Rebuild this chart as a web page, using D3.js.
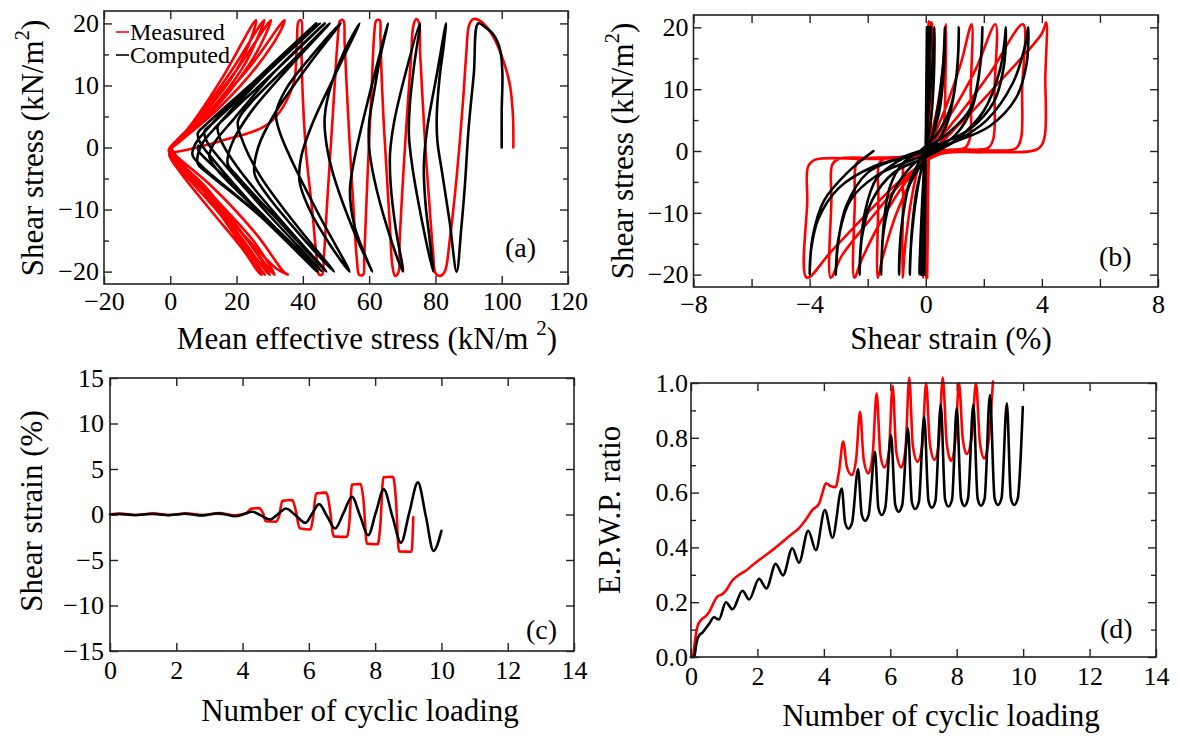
<!DOCTYPE html>
<html><head><meta charset="utf-8">
<script src="https://cdn.jsdelivr.net/npm/d3@7"></script>
<style>
body{margin:0;background:#fff;}
</style></head><body>
<script>
const W = 1180, H = 740;
const RED = "#ff0000", BLACK = "#000000";
const SERIF = "'Liberation Serif', 'Times New Roman', Times, serif";

// (a) effective stress paths: [mean effective stress, shear stress]
const stressPathMeasured = [
 [103.5,0],[103.4,5],[102.5,10],[100.5,14],[97.5,17.8],[94,20.2],[91.5,20.7],[90.2,19.8],[89.3,15],[88.4,8],[87.2,0],[85.8,-8],[84.3,-15],[82.8,-20],[81.3,-20.7],[80,-20.2],[79.3,-17],[78.3,-10],[77.2,-2],[76.1,8],[75.4,15],[75,20.2],[74.2,20.7],[73.3,19.5],[72.7,15],[71.8,8],[70.8,0],[69.9,-8],[69.2,-15],[68.8,-20.2],[67.8,-20.7],[67,-19],[66.3,-13],[65.4,-5],[64.5,3],[63.8,11],[63.4,18],[63.2,20.5],[62.2,20.5],[61.5,18],[60.8,10],[59.9,0],[59.1,-10],[58.5,-18],[58.2,-20.5],[57,-20.5],[56.3,-18],[55.3,-10],[54.3,-1],[53.3,9],[52.6,17],[52.2,20.5],[51.2,20.4],[50.6,18],[49.6,10],[48.4,0],[47.2,-10],[46.3,-18],[45.8,-20.5],[44.8,-20.4],[44.2,-18],[42.8,-10],[41,-1],[40,8],[39.6,15],[39.5,20.5],[38.7,20.3],[38.2,17],[37,10],[30,4],[15,1],[4,-0.5],[0.5,-1],[2,-2.5],[10,-7],[22,-14],[32,-19.5],[35.5,-20.5],[34.5,-20.2],[26,-14],[12,-6],[2,-1.5],[0,-0.5],[3,1],[14,6],[26,13],[33,18.5],[34.5,20.5],[33.5,20],[24,13],[11,5.5],[1,0.5],[0,-1],[3,-2.5],[14,-8.5],[25,-15],[30,-19],[31.5,-20.5],[30.5,-20],[22,-14],[10,-6],[1,-1.5],[-0.3,-0.5],[2,1],[12,5.5],[24,13.5],[29,18.5],[30.4,20.5],[29.5,20],[20,12.5],[8,4.5],[0.5,0],[-0.3,-1.2],[3,-3],[14,-9],[24,-15.5],[29,-19.5],[30,-20.5],[29,-20],[20,-13.5],[9,-6],[1,-1.5],[-0.5,-0.5],[2,1],[12,6],[22,13],[27,18.5],[28.4,20.5],[27.5,20],[18,12],[7,4],[0.5,0],[-0.3,-1.2],[3,-3.5],[13,-9.5],[23,-16],[27.5,-19.8],[28.5,-20.5],[27.5,-20],[19,-13.5],[8,-5.5],[1,-1.5],[-0.5,-0.5],[2,1.2],[11,6],[20,12.5],[25,18.5],[25.9,20.5],[25,20],[16,11.5],[6,3.5],[0.5,0],[-0.3,-1.2],[3,-4],[12,-10],[22,-16.5],[26.5,-20],[27.5,-20.5],[26.5,-19.5],[18,-13],[8,-5.5],[2,-1.5],[0.5,-0.3]
];
const stressPathComputed = [
 [100,0],[100,6],[100.2,12],[99.5,15.8],[97.5,18.2],[95,19.4],[92.9,20],
 [91.6,12],[90,3],[88.9,-6],[87.8,-13],[86.4,-20],
 [84.3,-12],[82,-4],[80.6,1],[80.4,5],[81.2,11],[82.4,16],[83.2,20],
 [80.5,12],[77.5,3],[76.5,-3],[77,-9],[78.3,-15],[79.3,-20],
 [76,-12],[73,-3],[72,2],[72.3,7],[73.5,13],[75.3,20],
 [71,12],[67.5,4],[66.3,-1],[66.5,-6],[68,-13],[70.2,-20],
 [65.5,-13],[61.5,-5],[60,0],[60,4],[61.5,9],[63.5,15],[65.7,20],
 [59.7,7.7],[55.5,-2],[54.2,-7],[55.5,-12.5],[58.5,-17],[60.9,-20],
 [55,-13],[49,-4],[47,1],[46.6,5],[48.5,10],[52.5,15.5],[57.1,20],
 [50,12],[43,4],[39.5,-1.5],[39,-5.5],[42,-10],[48,-15.5],[54.1,-20],
 [45,-11],[37,-2.5],[33,2.5],[31.9,5.5],[35,9.5],[43,15],[51.4,20],
 [42,13.5],[31,5],[26.5,0],[25.4,-4.2],[29,-7.5],[39,-14],[49.4,-20],
 [38,-12.5],[27,-4.5],[21.5,1.5],[20.4,4.2],[24,7],[36,13.5],[48.1,20],
 [36,13],[24,5.5],[18.5,0.5],[17.3,-2.6],[20,-4.5],[33,-12],[47.1,-20],
 [33,-11.5],[20,-3],[15,1.5],[14.3,3.4],[17,5],[31,12],[46.6,20],
 [32,12.5],[19,4.5],[13,0.5],[11.8,-1.5],[14,-3.5],[29,-11.5],[45.7,-20],
 [30,-11],[16,-2.5],[11,1],[10.3,2.6],[13,4],[28,11.5],[45.1,20],
 [29,12],[15,4],[9.5,0.5],[8.3,-2.6],[11,-4],[27,-11],[44.5,-20],
 [27,-10.5],[13,-2],[9,0.8],[8.3,2.3],[11,3.8],[26,11],[44.0,20],
 [27,11.5],[12,3.5],[7.5,0.5],[6.7,-1.2],[9.5,-3],[26,-10.5],[44.3,-20],
 [30,-12],[14,-3.5],[8.5,-0.5],[8.5,0.3]
];

// (b) stress-strain loops: [shear strain %, shear stress]
const hysteresisMeasured = [
 [0,0],[0.05,10],[0.1,21],[0.12,15],[0.05,0],[0.02,-10],[0.05,-20.5],[0.06,-10],[0.1,0],[0.15,12],[0.15,20.8],[0.14,10],[0.1,0],[0.05,-12],[0.05,-20.5],[0.08,-8],[0.12,5],[0.18,20.8],[0.16,8],[0.1,-2],[0.02,-20.5],[0.05,-8],[0.12,4],[0.22,20.8],[0.18,6],[0.05,-3],[-0.1,-20.5],
 [-0.08,-8],[-0.02,-1],[0.15,2],[0.4,7],[0.6,14],[0.7,20.5],
 [0.68,12],[0.6,3],[0.45,0.8],[0.1,0],[-0.2,-2],[-0.5,-8],[-0.7,-15],[-0.8,-20.5],
 [-0.78,-8],[-0.74,-2],[-0.55,-1.2],[-0.2,-0.8],[0.1,1],[0.6,6],[1.2,14],[1.58,20.5],
 [1.55,10],[1.52,2],[1.35,0.5],[0.8,0.2],[0.2,-0.3],[-0.4,-4],[-1.0,-10],[-1.5,-17.5],[-1.65,-20.5],
 [-1.63,-8],[-1.6,-2],[-1.4,-1.2],[-0.6,-1.0],[0,0],[0.8,5.5],[1.7,13],[2.4,20.5],
 [2.37,10],[2.33,2],[2.15,0.5],[1.2,0.2],[0.3,-0.3],[-0.6,-4.5],[-1.5,-11],[-2.2,-17.5],[-2.46,-20.5],
 [-2.44,-8],[-2.4,-2.2],[-2.2,-1.3],[-1.0,-1.0],[0,0],[1.0,5],[2.2,12.5],[3.35,20.5],
 [3.32,10],[3.28,2],[3.1,0.4],[1.8,0.1],[0.4,-0.5],[-0.7,-4.5],[-1.9,-11],[-2.9,-17],[-3.27,-20.5],
 [-3.25,-8],[-3.22,-2.2],[-3.0,-1.3],[-1.5,-1.1],[0,-0.3],[1.2,4.5],[2.6,11.5],[4.0,19],[4.15,20.8],
 [4.12,12],[4.08,2],[3.85,0.3],[2.0,-0.2],[0.5,-0.5],[-0.8,-4.5],[-2.0,-10],[-3.3,-16.5],[-4.1,-20.5],
 [-4.08,-8],[-4.05,-2.5],[-3.8,-1.4],[-2.0,-1.3],[-0.3,-1.0]
];
const hysteresisComputed = [
 [0,0],[0.02,10],[0.04,20],[0.0,0],[-0.05,-20],[0.0,0],[0.08,20],[0.0,0],[-0.1,-20],[0.0,0],[0.12,20],[0.0,0],[-0.15,-20],[0.0,0],[0.18,20],[0.01,0],[-0.22,-20],
 [-0.14,-10],[-0.06,-3],[0.02,2],[0.12,8],[0.25,15],[0.3,20],
 [0.28,12],[0.18,5],[0.0,0],[-0.2,-4],[-0.4,-10],[-0.52,-16],[-0.55,-20],
 [-0.48,-13],[-0.3,-6],[-0.05,-1.5],[0.2,2],[0.45,8],[0.6,14],[0.66,20],
 [0.62,13],[0.45,6],[0.15,1.5],[-0.2,-1.5],[-0.55,-5],[-0.8,-11],[-0.9,-16],[-0.92,-20],
 [-0.85,-13],[-0.6,-6],[-0.2,-2.5],[0.25,0.5],[0.7,4],[1.0,10],[1.12,16],[1.14,20],
 [1.08,13],[0.85,7],[0.35,2.5],[-0.2,0],[-0.8,-2],[-1.25,-6],[-1.45,-12],[-1.54,-20],
 [-1.45,-13],[-1.15,-7],[-0.5,-2.5],[0.2,0],[1.0,2.5],[1.6,7],[1.88,14],[1.95,20],
 [1.88,14],[1.55,7],[0.8,3],[0,0.5],[-0.9,-1.5],[-1.7,-4.5],[-2.1,-10],[-2.25,-16],[-2.28,-20],
 [-2.2,-14],[-1.85,-8],[-1.1,-3.5],[0,-1],[1.1,2],[2.0,6.5],[2.55,13],[2.72,18],[2.76,20],
 [2.7,14],[2.35,8],[1.5,3.5],[0.4,1],[-0.8,-1],[-2.0,-3.5],[-2.75,-9],[-3.02,-15],[-3.1,-20],
 [-3.0,-14],[-2.6,-8],[-1.7,-4],[-0.5,-1.5],[0.8,1],[2.1,5],[3.0,11],[3.42,17],[3.53,20],
 [3.47,14],[3.1,8.5],[2.2,4],[1.0,1.5],[-0.3,-0.5],[-1.8,-2.5],[-3.0,-6],[-3.7,-11],[-3.95,-16],[-4.0,-20],
 [-3.9,-14],[-3.5,-8],[-2.7,-3.5],[-1.8,0]
];

// (c) shear strain history
const strainCyclesMeasured = [0,0.3,0.8,1.3,1.8,2.3,2.8,3.3,3.75,4.1,4.27,4.5,4.62,4.7,5.0,5.1,5.2,5.5,5.6,5.72,6.05,6.12,6.22,6.53,6.62,6.75,7.15,7.22,7.3,7.56,7.65,7.75,8.08,8.15,8.25,8.54,8.62,8.72,9.1,9.15];
const strainMeasured =       [0,0.1,-0.05,0.12,-0.05,0.12,-0.05,0.15,-0.1,0.1,0.65,0.7,0.1,-0.75,-0.8,-0.2,1.5,1.6,0.5,-1.5,-1.65,-0.5,2.3,2.4,1.0,-2.4,-2.46,-1.0,3.3,3.35,1.5,-3.2,-3.27,-1.5,4.1,4.15,2.0,-4.05,-4.1,-0.3];
const strainCyclesComputed = [0,0.25,0.5,0.75,1.0,1.25,1.5,1.75,2.0,2.25,2.5,2.75,3.0,3.25,3.5,3.77,4.05,4.29,4.55,4.83,5.07,5.31,5.6,5.9,6.1,6.31,6.55,6.79,7.05,7.3,7.55,7.79,8.02,8.26,8.52,8.78,9.03,9.29,9.53,9.76,10.0];
const strainComputed =       [0,0.05,0,-0.08,0,0.06,0,-0.08,0,0.08,0,-0.1,0,0.12,0,-0.2,0.05,0.3,-0.1,-0.55,0.05,0.66,-0.1,-0.92,0.1,1.14,-0.2,-1.54,0.2,1.95,-0.2,-2.28,0.2,2.76,-0.2,-3.1,0.2,3.53,-0.2,-4.0,-1.8];

// (d) excess pore water pressure ratio history
const epwpCyclesMeasured = [0,0.06,0.12,0.19,0.3,0.45,0.55,0.69,0.79,0.95,1.05,1.25,1.45,1.65,1.85,2.05,2.25,2.45,2.65,2.85,3.05,3.25,3.45,3.65,3.86,3.96,4.06,4.2,4.35,4.46,4.58,4.7,4.84,4.97,5.09,5.2,5.34,5.47,5.59,5.7,5.82,5.96,6.07,6.18,6.33,6.46,6.57,6.68,6.82,6.96,7.08,7.19,7.33,7.46,7.58,7.7,7.83,7.96,8.07,8.18,8.3,8.45,8.58,8.7,8.83,8.97,9.09];
const epwpMeasured =       [0,0.005,0.06,0.11,0.135,0.15,0.165,0.2,0.22,0.23,0.242,0.28,0.3,0.315,0.335,0.354,0.372,0.39,0.41,0.43,0.45,0.47,0.5,0.536,0.561,0.6,0.634,0.624,0.62,0.68,0.786,0.69,0.664,0.72,0.895,0.72,0.67,0.74,0.962,0.74,0.692,0.75,0.99,0.75,0.692,0.76,1.02,0.77,0.713,0.77,1.0,0.78,0.72,0.78,1.02,0.78,0.716,0.79,1.0,0.8,0.741,0.8,1.0,0.78,0.725,0.8,1.005];
const epwpCyclesComputed = [0,0.1,0.15,0.22,0.35,0.54,0.69,0.84,1.05,1.25,1.55,1.75,2.05,2.27,2.55,2.77,3.05,3.25,3.53,3.76,4.03,4.26,4.54,4.64,4.74,4.85,5.03,5.14,5.24,5.35,5.54,5.64,5.74,5.85,6.02,6.15,6.25,6.36,6.53,6.65,6.75,6.86,7.02,7.15,7.25,7.36,7.52,7.65,7.75,7.86,8.0,8.13,8.23,8.34,8.5,8.63,8.73,8.84,9.0,9.14,9.24,9.35,9.51,9.63,9.73,9.84,9.99];
const epwpComputed =       [0,0.0,0.04,0.074,0.09,0.12,0.145,0.137,0.2,0.174,0.242,0.21,0.285,0.25,0.34,0.298,0.397,0.344,0.461,0.39,0.536,0.435,0.615,0.49,0.468,0.49,0.685,0.52,0.497,0.52,0.749,0.545,0.518,0.545,0.81,0.555,0.53,0.555,0.835,0.565,0.54,0.565,0.877,0.57,0.545,0.57,0.92,0.575,0.549,0.575,0.908,0.578,0.551,0.578,0.92,0.578,0.552,0.578,0.956,0.58,0.555,0.58,0.926,0.58,0.555,0.58,0.912];

// tick values
const ticksA = {x:[-20,0,20,40,60,80,100,120], xMinor:[], y:[-20,-10,0,10,20], yMinor:[-15,-5,5,15]};
const ticksB = {x:[-8,-4,0,4,8], xMinor:[-6,-2,2,6], y:[-20,-10,0,10,20], yMinor:[-15,-5,5,15]};
const ticksC = {x:[0,2,4,6,8,10,12,14], xMinor:[], y:[-15,-10,-5,0,5,10,15], yMinor:[]};
const ticksD = {x:[0,2,4,6,8,10,12,14], xMinor:[], y:[0,0.2,0.4,0.6,0.8,1.0], yMinor:[0.1,0.3,0.5,0.7,0.9]};

const svg = d3.select("body").append("svg").attr("width", W).attr("height", H)
  .style("font-family", SERIF);
svg.append("rect").attr("width", W).attr("height", H).attr("fill", "#fff");

function panel(o) {
  const x = d3.scaleLinear().domain(o.xDomain).range([o.left, o.right]);
  const y = d3.scaleLinear().domain(o.yDomain).range([o.bottom, o.top]);
  const g = svg.append("g");
  const styleAxis = sel => {
    sel.attr("font-size", 26).attr("font-family", SERIF).attr("color", "#222");
    sel.select(".domain").remove();
    sel.selectAll(".tick line").attr("stroke-width", 1.4);
    sel.selectAll("text").attr("font-family", SERIF).attr("font-size", 26)
      .style("font-family", SERIF).style("font-size", "26px").attr("fill", "#000");
  };
  const none = () => "";
  g.append("g").attr("transform", `translate(0,${o.bottom})`)
    .call(d3.axisBottom(x).tickValues(o.ticks.x).tickSizeInner(-8).tickSizeOuter(0).tickPadding(o.xPad).tickFormat(o.xFmt))
    .call(styleAxis);
  g.append("g").attr("transform", `translate(0,${o.bottom})`)
    .call(d3.axisBottom(x).tickValues(o.ticks.xMinor).tickSizeInner(-8).tickSizeOuter(0).tickFormat(none)).call(styleAxis);
  g.append("g").attr("transform", `translate(0,${o.top})`)
    .call(d3.axisTop(x).tickValues(o.ticks.x.concat(o.ticks.xMinor)).tickSizeInner(-8).tickSizeOuter(0).tickFormat(none)).call(styleAxis);
  g.append("g").attr("transform", `translate(${o.left},0)`)
    .call(d3.axisLeft(y).tickValues(o.ticks.y).tickSizeInner(-8).tickSizeOuter(0).tickPadding(o.yPad).tickFormat(o.yFmt))
    .call(styleAxis);
  g.append("g").attr("transform", `translate(${o.left},0)`)
    .call(d3.axisLeft(y).tickValues(o.ticks.yMinor).tickSizeInner(-5).tickSizeOuter(0).tickFormat(none)).call(styleAxis);
  g.append("g").attr("transform", `translate(${o.right},0)`)
    .call(d3.axisRight(y).tickValues(o.ticks.y).tickSizeInner(-8).tickSizeOuter(0).tickFormat(none)).call(styleAxis);
  g.append("g").attr("transform", `translate(${o.right},0)`)
    .call(d3.axisRight(y).tickValues(o.ticks.yMinor).tickSizeInner(-5).tickSizeOuter(0).tickFormat(none)).call(styleAxis);
  o.series.forEach(s => {
    g.append("path").datum(s.data)
      .attr("fill", "none").attr("stroke", s.color).attr("stroke-width", 2.6)
      .attr("stroke-linejoin", "round").attr("stroke-linecap", "round")
      .attr("d", d3.line().x(d => x(d[0])).y(d => y(d[1])).curve(s.curve));
  });
  g.append("rect").attr("x", o.left).attr("y", o.top)
    .attr("width", o.right - o.left).attr("height", o.bottom - o.top)
    .attr("fill", "none").attr("stroke", "#222").attr("stroke-width", 1.6);
  g.append("text").attr("x", o.tag[1]).attr("y", o.tag[2])
    .style("font-family", SERIF).style("font-size", "28px").text(o.tag[0]);
  return {x, y, g};
}

const pairs = (xs, ys) => xs.map((v, i) => [v, ys[i]]);
const intFmt = d3.format("d");

panel({left:104, right:568, top:11, bottom:284, xDomain:[-20,120], yDomain:[-22,22],
  ticks:ticksA, xFmt:intFmt, yFmt:intFmt, xPad:8, yPad:5, tag:["(a)",505,257],
  series:[{data:stressPathMeasured, color:RED, curve:d3.curveCatmullRom.alpha(0.5)},
          {data:stressPathComputed, color:BLACK, curve:d3.curveCatmullRom.alpha(0.5)}]});

panel({left:693.5, right:1158, top:15, bottom:287, xDomain:[-8,8], yDomain:[-22,22],
  ticks:ticksB, xFmt:intFmt, yFmt:intFmt, xPad:8, yPad:5, tag:["(b)",1099,266],
  series:[{data:hysteresisMeasured, color:RED, curve:d3.curveCatmullRom.alpha(0.5)},
          {data:hysteresisComputed, color:BLACK, curve:d3.curveCatmullRom.alpha(0.5)}]});

panel({left:110, right:574, top:378, bottom:651, xDomain:[0,14], yDomain:[-15,15],
  ticks:ticksC, xFmt:intFmt, yFmt:intFmt, xPad:10, yPad:6, tag:["(c)",526,639],
  series:[{data:pairs(strainCyclesMeasured, strainMeasured), color:RED, curve:d3.curveMonotoneX},
          {data:pairs(strainCyclesComputed, strainComputed), color:BLACK, curve:d3.curveMonotoneX}]});

panel({left:691, right:1156, top:383, bottom:657, xDomain:[0,14], yDomain:[0,1],
  ticks:ticksD, xFmt:intFmt, yFmt:d3.format(".1f"), xPad:10, yPad:3, tag:["(d)",1100,638],
  series:[{data:pairs(epwpCyclesMeasured, epwpMeasured), color:RED, curve:d3.curveMonotoneX},
          {data:pairs(epwpCyclesComputed, epwpComputed), color:BLACK, curve:d3.curveMonotoneX}]});

// axis titles
function title(x, y, rot, parts) {
  const t = svg.append("text").attr("text-anchor", "middle")
    .style("font-family", SERIF).style("font-size", "31px")
    .attr("transform", `translate(${x},${y}) rotate(${rot})`);
  parts.forEach(p => {
    const s = t.append("tspan").text(p.t);
    if (p.sup) s.style("font-size", "21px").attr("dy", -14).attr("dx", p.dx || 0);
    if (p.after) s.attr("dy", 14);
  });
}
title(367, 349, 0, [{t:"Mean effective stress (kN/m"},{t:"2", sup:true, dx:8},{t:")", after:true}]);
title(43, 148, -90, [{t:"Shear stress (kN/m"},{t:"2", sup:true},{t:")", after:true}]);
title(633, 151, -90, [{t:"Shear stress (kN/m"},{t:"2", sup:true},{t:")", after:true}]);
title(951, 349, 0, [{t:"Shear strain (%)"}]);
title(42, 511, -90, [{t:"Shear strain (%)"}]);
title(360, 721, 0, [{t:"Number of cyclic loading"}]);
title(620, 510, -90, [{t:"E.P.W.P. ratio"}]);
title(941, 726, 0, [{t:"Number of cyclic loading"}]);

// legend
const legendItems = [{label:"Measured", color:RED, y:32}, {label:"Computed", color:BLACK, y:55}];
legendItems.forEach(d => {
  svg.append("line").attr("x1", 116).attr("x2", 129).attr("y1", d.y).attr("y2", d.y)
    .attr("stroke", d.color).attr("stroke-width", 1.6);
  svg.append("text").attr("x", 130).attr("y", d.y + 8)
    .style("font-family", SERIF).style("font-size", "24px").text(d.label);
});
</script></body></html>
